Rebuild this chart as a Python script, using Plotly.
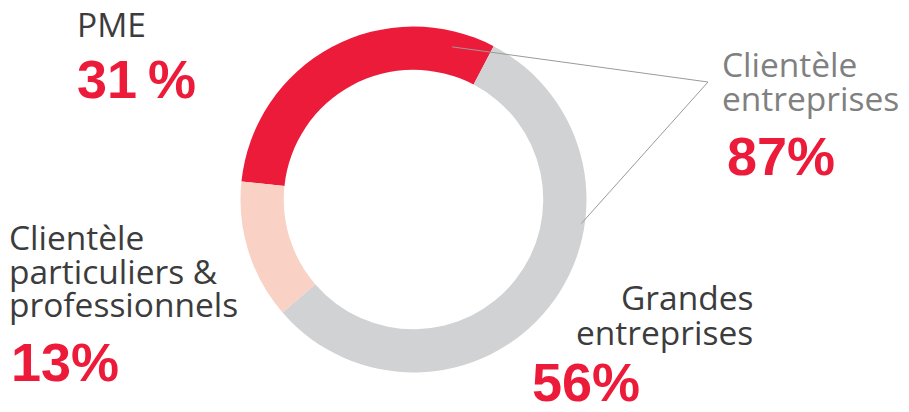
import math
import plotly.graph_objects as go

# Segment data
segments = ["PME", "Grandes entreprises", "Clientèle particuliers & professionnels"]
shares = [31, 56, 13]
colors = ["#ED1B3A", "#D1D2D4", "#F9D1C5"]

# Label lines for each segment
pme_lines = ["PME"]
grandes_lines = ["Grandes", "entreprises"]
particuliers_lines = ["Clientèle", "particuliers &", "professionnels"]
entreprises_lines = ["Clientèle", "entreprises"]

W, H = 909, 412
RED = "#ED1B3A"
DARK = "#3C3C3C"
MID = "#808080"
LABEL_FONT = "Open Sans"
PCT_FONT = "Liberation Sans"

# Donut geometry (pixels)
cx, cy, R = 413.5, 199.5, 173.0
hole = 0.75
start_deg = 174.0  # first slice starts here (math angle, counter-clockwise from east)

dom_x = [(cx - R) / W, (cx + R) / W]
dom_y = [1 - (cy + R) / H, 1 - (cy - R) / H]

fig = go.Figure(
    go.Pie(
        labels=segments,
        values=shares,
        marker=dict(colors=colors, line=dict(width=0)),
        hole=hole,
        sort=False,
        direction="clockwise",
        rotation=90 - start_deg,
        textinfo="none",
        textposition="none",
        showlegend=False,
        domain=dict(x=dom_x, y=dom_y),
        hovertemplate="%{label}: %{value}%<extra></extra>",
    )
)


def px_to_paper(x, y):
    return x / W, 1 - y / H


def ring_point(angle_deg, r):
    a = math.radians(angle_deg)
    return cx + r * math.cos(a), cy - r * math.sin(a)


# Slice angle spans (clockwise from start)
total = sum(shares)
spans = []
ang = start_deg
for v in shares:
    sweep = 360.0 * v / total
    spans.append((ang, ang - sweep))
    ang -= sweep

# Leader lines from the two corporate segments to the combined label
red_start, red_end = spans[0]
grey_start, grey_end = spans[1]
a_red = red_end + 0.12 * (red_start - red_end)
a_grey = grey_start - 0.35 * (grey_start - grey_end)
p_red = ring_point(a_red, 0.91 * R)
p_grey = ring_point(a_grey, 0.98 * R)
vertex = (708, 82)

shapes = []
for p in (p_red, p_grey):
    x0, y0 = px_to_paper(*p)
    x1, y1 = px_to_paper(*vertex)
    shapes.append(dict(type="line", xref="paper", yref="paper",
                       x0=x0, y0=y0, x1=x1, y1=y1,
                       line=dict(color="#9A9A9A", width=1)))

annotations = []


def add_text(text, x, y, size, color, family, xanchor="left", weight=None):
    xp, yp = px_to_paper(x, y)
    font = dict(size=size, color=color, family=family)
    if weight is not None:
        font["weight"] = weight
    annotations.append(dict(text=text, x=xp, y=yp, xref="paper", yref="paper",
                            xanchor=xanchor, yanchor="middle", showarrow=False,
                            borderpad=0, font=font))


label_size = 33.5
pct_size = 54


def label(text, x, y_cap_mid, color=DARK, xanchor="left"):
    add_text(text, x, y_cap_mid - 1, label_size, color, LABEL_FONT, xanchor=xanchor, weight=400)


def pct(value, x, y_cap_mid, sep=""):
    add_text(f"{value}{sep}%", x, y_cap_mid + 0.6, pct_size, RED, PCT_FONT, weight="bold")


# PME
label(pme_lines[0], 76, 25)
pct(shares[0], 76, 78.5, sep="\u2009")

# Particuliers & professionnels
for line, y in zip(particuliers_lines, [238.3, 271.5, 305.3]):
    label(line, 8, y)
pct(shares[2], 10, 361.7)

# Grandes entreprises
for line, y in zip(grandes_lines, [298, 333]):
    label(line, 754, y, xanchor="right")
pct(shares[1], 531, 381)

# Clientèle entreprises (PME + Grandes entreprises)
for line, y in zip(entreprises_lines, [65, 99]):
    label(line, 721, y, color=MID)
pct(shares[0] + shares[1], 726, 155)

fig.update_layout(
    width=W, height=H,
    margin=dict(l=0, r=0, t=0, b=0),
    paper_bgcolor="white",
    plot_bgcolor="white",
    shapes=shapes,
    annotations=annotations,
)

fig.write_html("out.html")
